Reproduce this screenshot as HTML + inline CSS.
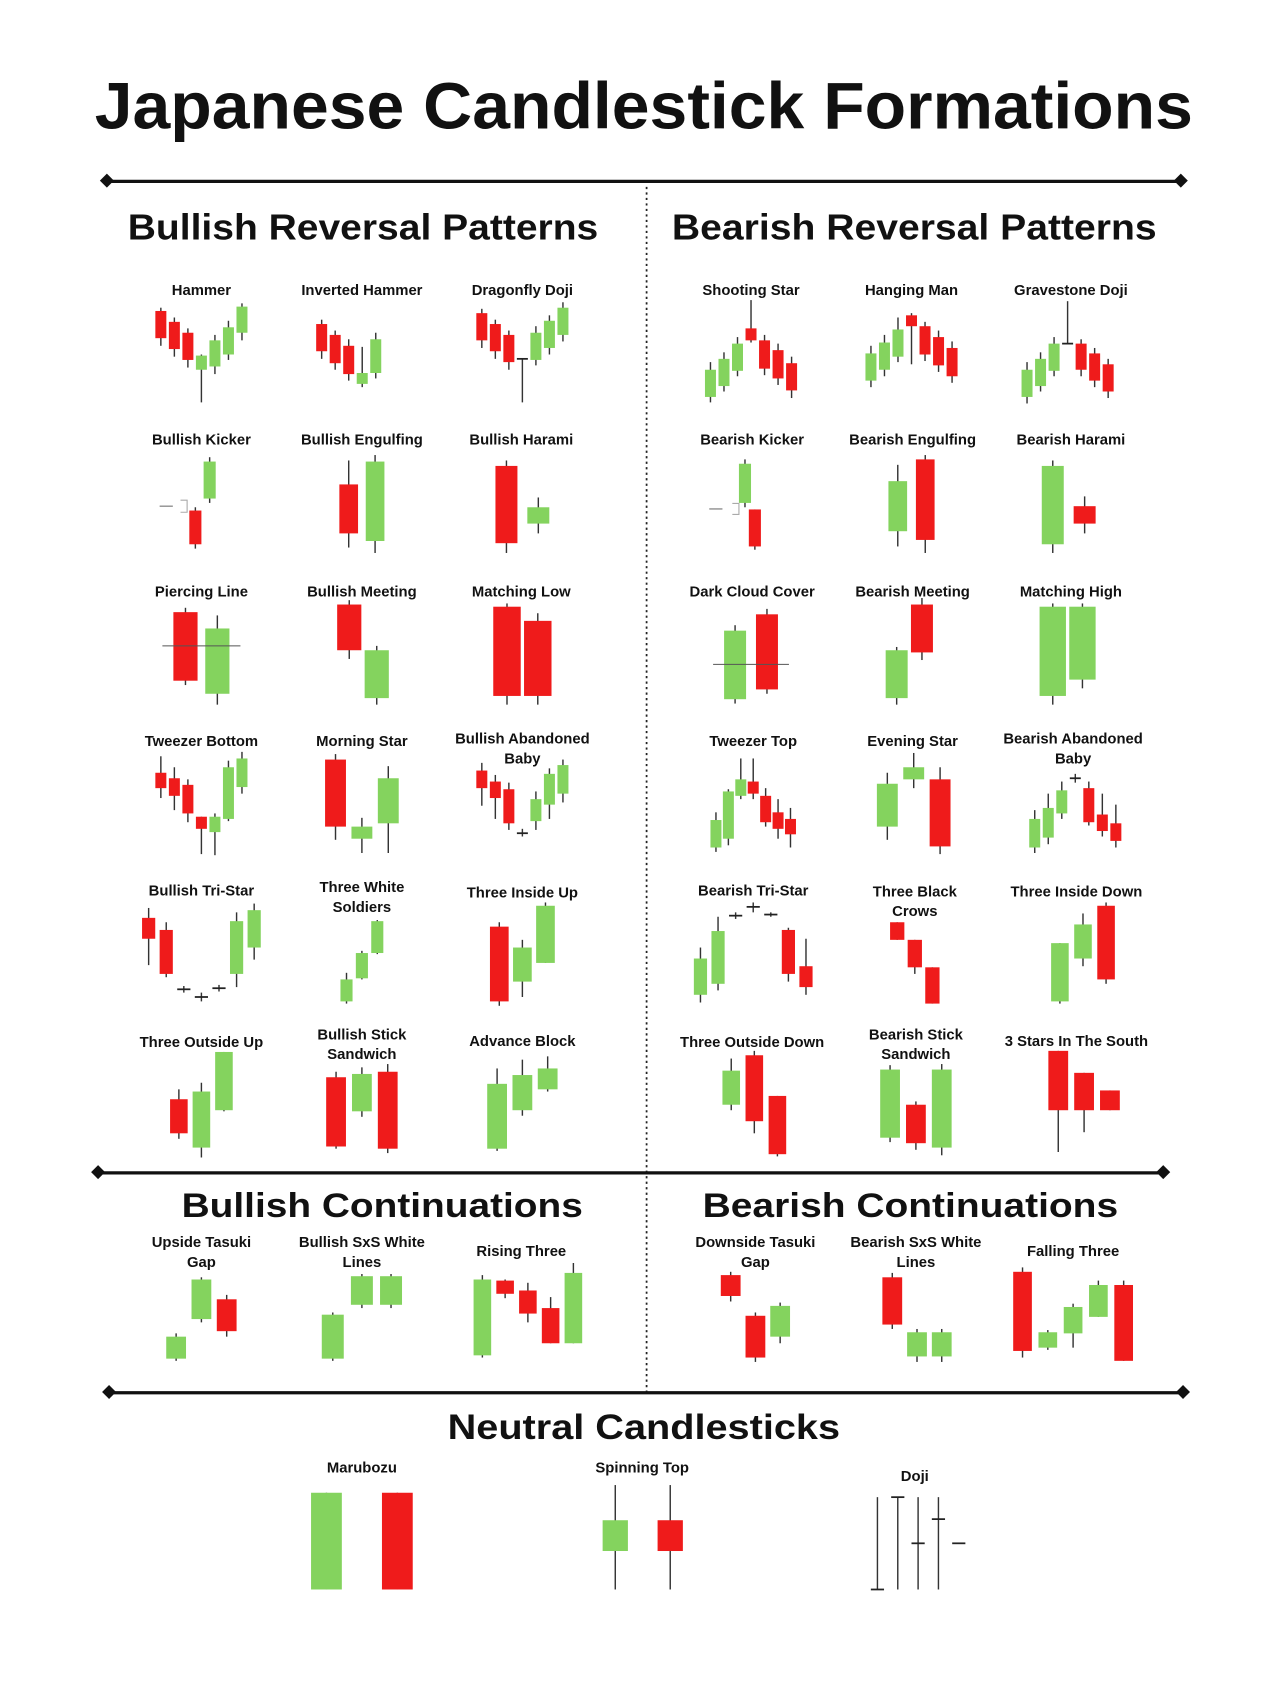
<!DOCTYPE html>
<html><head><meta charset="utf-8"><style>
html,body{margin:0;padding:0;background:#fff;}
svg{display:block;}
text{font-family:"Liberation Sans",sans-serif;font-weight:bold;fill:#111;}
</style></head><body>
<svg id="chart" width="1280" height="1706" viewBox="0 0 1164 1552" xmlns="http://www.w3.org/2000/svg">
<rect x="0" y="0" width="1164" height="1552" fill="#fff"/>
<text x="86" y="117" font-size="60" textLength="999" lengthAdjust="spacingAndGlyphs">Japanese Candlestick Formations</text>
<g>
<line x1="97" y1="165" x2="1074" y2="165" stroke="#111" stroke-width="3"/>
<rect x="92" y="160" width="9" height="9" transform="rotate(45 97 165)" fill="#111"/>
<rect x="1069" y="160" width="9" height="9" transform="rotate(45 1074 165)" fill="#111"/>
</g>
<line x1="588" y1="170" x2="588" y2="1267" stroke="#222" stroke-width="1.6" stroke-dasharray="2 3"/>
<text x="116" y="218" font-size="33" textLength="428" lengthAdjust="spacingAndGlyphs">Bullish Reversal Patterns</text>
<text x="611" y="218" font-size="33" textLength="441" lengthAdjust="spacingAndGlyphs">Bearish Reversal Patterns</text>
<g>
<line x1="89" y1="1067" x2="1058" y2="1067" stroke="#111" stroke-width="3"/>
<rect x="84" y="1062" width="9" height="9" transform="rotate(45 89 1067)" fill="#111"/>
<rect x="1053" y="1062" width="9" height="9" transform="rotate(45 1058 1067)" fill="#111"/>
</g>
<text x="165" y="1107" font-size="31" textLength="365" lengthAdjust="spacingAndGlyphs">Bullish Continuations</text>
<text x="639" y="1107" font-size="31" textLength="378" lengthAdjust="spacingAndGlyphs">Bearish Continuations</text>
<g>
<line x1="99" y1="1267" x2="1076" y2="1267" stroke="#111" stroke-width="3"/>
<rect x="94" y="1262" width="9" height="9" transform="rotate(45 99 1267)" fill="#111"/>
<rect x="1071" y="1262" width="9" height="9" transform="rotate(45 1076 1267)" fill="#111"/>
</g>
<text x="407" y="1309" font-size="32" textLength="357" lengthAdjust="spacingAndGlyphs">Neutral Candlesticks</text>
<g id="marks"></g>
</svg>
<script>
// candle data: [open, close, high, low]
const hammer=[[90,65,93,58],[80,55,84,48],[70,45,74,38],[36,49,50,6],[39,63,68,32],[50,75,81,45],[70,94,97,63]];
const invertedHammer=[[78,53,82,46],[68,42,72,36],[58,32,64,26],[23,33,57,20],[33,64,70,28]];
const dragonflyDoji=[[88,63,92,56],[78,53,82,46],[68,43,72,36],[46,46,46,6],[45,70,76,40],[56,81,86,50],[68,93,98,62]];
const shootingStar=[[11,36,43,6],[21,46,52,16],[35,60,66,30],[74,63,100,61],[63,37,68,31],[54,28,60,22],[42,17,48,10]];
const hangingMan=[[26,51,58,20],[36,61,68,30],[48,73,84,43],[86,76,88,41],[76,50,80,44],[66,40,72,34],[56,30,62,24]];
const gravestoneDoji=[[11,36,43,5],[21,46,52,16],[35,60,66,30],[60,60,99,60],[60,36,64,30],[51,26,56,20],[41,16,46,10]];
const bullishKicker=[[45,14,48,10],[56,90,94,52]];
const bullishEngulfing=[[69,24,91,11],[17,90,96,6]];
const bullishHarami=[[86,15,91,6],[33,48,57,24]];
const bearishKicker=[[52,88,92,48],[46,12,46,9]];
const bearishEngulfing=[[26,72,87,12],[92,18,96,6]];
const bearishHarami=[[14,86,91,6],[49,33,58,24]];
const piercingLine=[[89,26,93,22],[14,74,86,4]];
const bullishMeeting=[[96,54,100,46],[10,54,58,4]];
const matchingLow=[[94,12,97,4],[81,12,88,4]];
const darkCloudCover=[[9,72,77,5],[87,18,92,14]];
const bearishMeeting=[[10,54,57,4],[96,52,102,45]];
const matchingHigh=[[12,94,97,4],[27,94,97,19]];
const tweezerBottom=[[88,74,103,65],[83,67,93,54],[77,51,82,43],[48,37,48,14],[34,48,51,13],[46,93,99,44],[75,101,107,69]];
const morningStar=[[100,39,105,27],[28,39,47,15],[42,83,94,15]];
const bullishAbandonedBaby=[[90,74,97,58],[80,65,86,46],[73,42,79,36],[33,33,37,30],[44,64,71,36],[59,87,92,46],[69,95,100,61]];
const tweezerTop=[[20,45,52,16],[28,71,73,22],[67,82,101,64],[80,69,101,64],[67,43,74,39],[52,37,64,28],[46,32,56,20]];
const eveningStar=[[39,78,88,27],[82,93,106,74],[82,21,93,14]];
const bearishAbandonedBaby=[[20,46,54,15],[29,56,69,23],[51,72,80,46],[83,83,87,79],[74,43,80,40],[50,35,69,30],[42,26,59,20]];
const bullishTriStar=[[93,74,102,50],[82,42,89,39],[28,28,31,25],[21,21,25,17],[29,29,32,26],[42,90,98,30],[66,100,106,55]];
const threeWhiteSoldiers=[[17,37,43,15],[38,61,63,37],[61,90,91,60]];
const threeInsideUp=[[85,17,89,13],[35,66,73,21],[52,104,107,52]];
const bearishTriStar=[[23,56,66,16],[33,81,94,27],[95,95,98,92],[103,103,107,98],[96,96,98,94],[82,42,84,35],[49,30,74,23]];
const threeBlackCrows=[[89,73,89,73],[73,48,73,42],[48,15,48,15]];
const threeInsideDown=[[17,70,70,15],[56,87,97,49],[104,37,107,33]];
const threeOutsideUp=[[66,35,75,30],[22,73,81,13],[56,109,109,55]];
const bullishStickSandwich=[[86,23,91,21],[55,89,95,50],[91,21,98,17]];
const advanceBlock=[[21,80,94,19],[56,88,102,51],[75,94,105,73]];
const threeOutsideDown=[[61,92,103,56],[106,46,110,35],[69,16,69,14]];
const bearishStickSandwich=[[31,93,97,27],[61,26,64,20],[22,93,98,15]];
const threeStarsSouth=[[110,56,110,18],[90,56,90,36],[74,56,74,56]];
const upsideTasukiGap=[[19,39,42,17],[55,91,93,52],[73,44,77,39]];
const bullishSxsWhiteLines=[[19,59,61,17],[68,94,96,65],[68,94,96,65]];
const risingThree=[[22,91,95,20],[90,78,91,74],[81,60,88,52],[65,33,75,33],[33,97,106,33]];
const downsideTasukiGap=[[95,76,98,71],[58,20,61,16],[39,67,70,33]];
const bearishSxsWhiteLines=[[93,50,97,46],[21,43,46,16],[21,43,46,16]];
const fallingThree=[[98,26,102,20],[29,43,45,27],[42,66,69,29],[57,86,90,57],[86,17,90,17]];
const marubozu=[[4,92,92,4],[92,4,92,4]];
const spinningTop=[[39,67,99,4],[67,39,99,4]];
const doji=[[4,4,88,4],[88,88,88,4],[46,46,88,4],[68,68,88,4],[46,46,46,46]];

const GREEN="#84d35e", RED="#ef1b1b", WICK="#333";
const patterns=[
 {id:'hammer',label:['Hammer'],d:hammer,cx:183,base:372,k:.99,step:12.3,w:10,ly:264},
 {id:'inverted-hammer',label:['Inverted Hammer'],d:invertedHammer,cx:317,base:372,k:.99,step:12.3,w:10,ly:264,lx:329},
 {id:'dragonfly-doji',label:['Dragonfly Doji'],d:dragonflyDoji,cx:475,base:372,k:.99,step:12.3,w:10,ly:264},
 {id:'shooting-star',label:['Shooting Star'],d:shootingStar,cx:683,base:372,k:.99,step:12.3,w:10,ly:264},
 {id:'hanging-man',label:['Hanging Man'],d:hangingMan,cx:829,base:372,k:.99,step:12.3,w:10,ly:264},
 {id:'gravestone-doji',label:['Gravestone Doji'],d:gravestoneDoji,cx:971,base:372,k:.99,step:12.3,w:10,ly:264,lx:974},
 {id:'bullish-kicker',label:['Bullish Kicker'],d:bullishKicker,cx:184,base:509,k:.99,step:13,w:11,ly:400,lx:183},
 {id:'bullish-engulfing',label:['Bullish Engulfing'],d:bullishEngulfing,cx:329,base:509,k:.99,step:24,w:17,ly:400},
 {id:'bullish-harami',label:['Bullish Harami'],d:bullishHarami,cx:475,base:509,k:.99,step:29,w:20,ly:400,lx:474},
 {id:'bearish-kicker',label:['Bearish Kicker'],d:bearishKicker,cx:682,base:509,k:.99,step:9,w:11,ly:400,lx:684},
 {id:'bearish-engulfing',label:['Bearish Engulfing'],d:bearishEngulfing,cx:829,base:509,k:.99,step:25,w:17,ly:400,lx:830},
 {id:'bearish-harami',label:['Bearish Harami'],d:bearishHarami,cx:972,base:509,k:.99,step:29,w:20,ly:400,lx:974},
 {id:'piercing-line',label:['Piercing Line'],d:piercingLine,cx:183,base:645,k:.99,step:29,w:22,ly:538,hline:58},
 {id:'bullish-meeting',label:['Bullish Meeting'],d:bullishMeeting,cx:330,base:645,k:.99,step:25,w:22,ly:538,lx:329},
 {id:'matching-low',label:['Matching Low'],d:matchingLow,cx:475,base:645,k:.99,step:28,w:25,ly:538,lx:474},
 {id:'dark-cloud-cover',label:['Dark Cloud Cover'],d:darkCloudCover,cx:683,base:645,k:.99,step:29,w:20,ly:538,lx:684,hline:41},
 {id:'bearish-meeting',label:['Bearish Meeting'],d:bearishMeeting,cx:827,base:645,k:.99,step:23,w:20,ly:538,lx:830},
 {id:'matching-high',label:['Matching High'],d:matchingHigh,cx:971,base:645,k:.99,step:27,w:24,ly:538,lx:974},
 {id:'tweezer-bottom',label:['Tweezer Bottom'],d:tweezerBottom,cx:183,base:791,k:1,step:12.3,w:10,ly:674},
 {id:'morning-star',label:['Morning Star'],d:morningStar,cx:329,base:791,k:1,step:24,w:19,ly:674},
 {id:'bullish-abandoned-baby',label:['Bullish Abandoned','Baby'],d:bullishAbandonedBaby,cx:475,base:791,k:1,step:12.3,w:10,ly:672},
 {id:'tweezer-top',label:['Tweezer Top'],d:tweezerTop,cx:685,base:791,k:1,step:11.3,w:10,ly:674},
 {id:'evening-star',label:['Evening Star'],d:eveningStar,cx:831,base:791,k:1,step:24,w:19,ly:674,lx:830},
 {id:'bearish-abandoned-baby',label:['Bearish Abandoned','Baby'],d:bearishAbandonedBaby,cx:978,base:791,k:1,step:12.3,w:10,ly:672,lx:976},
 {id:'bullish-tri-star',label:['Bullish Tri-Star'],d:bullishTriStar,cx:183,base:928,k:1,step:16,w:12,ly:810},
 {id:'three-white-soldiers',label:['Three White','Soldiers'],d:threeWhiteSoldiers,cx:329,base:928,k:1,step:14,w:11,ly:807},
 {id:'three-inside-up',label:['Three Inside Up'],d:threeInsideUp,cx:475,base:928,k:1,step:21,w:17,ly:812},
 {id:'bearish-tri-star',label:['Bearish Tri-Star'],d:bearishTriStar,cx:685,base:928,k:1,step:16,w:12,ly:810},
 {id:'three-black-crows',label:['Three Black','Crows'],d:threeBlackCrows,cx:832,base:928,k:1,step:16,w:13,ly:811},
 {id:'three-inside-down',label:['Three Inside Down'],d:threeInsideDown,cx:985,base:928,k:1,step:21,w:16,ly:811,lx:979},
 {id:'three-outside-up',label:['Three Outside Up'],d:threeOutsideUp,cx:183,base:1066,k:1,step:20.5,w:16,ly:948},
 {id:'bullish-stick-sandwich',label:['Bullish Stick','Sandwich'],d:bullishStickSandwich,cx:329,base:1066,k:1,step:23.5,w:18,ly:941},
 {id:'advance-block',label:['Advance Block'],d:advanceBlock,cx:475,base:1066,k:1,step:23,w:18,ly:947},
 {id:'three-outside-down',label:['Three Outside Down'],d:threeOutsideDown,cx:686,base:1066,k:1,step:21,w:16,ly:948,lx:684},
 {id:'bearish-stick-sandwich',label:['Bearish Stick','Sandwich'],d:bearishStickSandwich,cx:833,base:1066,k:1,step:23.5,w:18,ly:941},
 {id:'three-stars-south',label:['3 Stars In The South'],d:threeStarsSouth,cx:986,base:1066,k:1,step:23.5,w:18,ly:947,lx:979},
 {id:'upside-tasuki-gap',label:['Upside Tasuki','Gap'],d:upsideTasukiGap,cx:183,base:1255,k:1,step:23,w:18,ly:1130},
 {id:'bullish-sxs-white-lines',label:['Bullish SxS White','Lines'],d:bullishSxsWhiteLines,cx:329,base:1255,k:1,step:26.5,w:20,ly:1130},
 {id:'rising-three',label:['Rising Three'],d:risingThree,cx:480,base:1255,k:1,step:20.7,w:16,ly:1138,lx:474},
 {id:'downside-tasuki-gap',label:['Downside Tasuki','Gap'],d:downsideTasukiGap,cx:687,base:1255,k:1,step:22.5,w:18,ly:1130},
 {id:'bearish-sxs-white-lines',label:['Bearish SxS White','Lines'],d:bearishSxsWhiteLines,cx:834,base:1255,k:1,step:22.5,w:18,ly:1130,lx:833},
 {id:'falling-three',label:['Falling Three'],d:fallingThree,cx:976,base:1255,k:1,step:23,w:17,ly:1138},
 {id:'marubozu',label:['Marubozu'],d:marubozu,cx:329,base:1450,k:1,step:64.5,w:28,ly:1335,lx:329},
 {id:'spinning-top',label:['Spinning Top'],d:spinningTop,cx:584.5,base:1450,k:1,step:50,w:23,ly:1335,lx:584},
 {id:'doji',label:['Doji'],d:doji,cx:835,base:1450,k:1,step:18.5,w:12,ly:1343,lx:832}
];
const NS="http://www.w3.org/2000/svg";
const marks=document.getElementById('marks');
function mk(tag,attrs,parent){const e=document.createElementNS(NS,tag);for(const a in attrs)e.setAttribute(a,attrs[a]);parent.appendChild(e);return e;}
patterns.forEach(p=>{
  const g=mk('g',{},marks);
  
  
  const lx=p.lx||p.cx;
  p.label.forEach((t,j)=>{
    const tx=mk('text',{x:lx,y:p.ly+4.5+j*18,'font-size':13.5,'text-anchor':'middle'},g);
    
    
    tx.textContent=t;
  });
  const n=p.d.length;
  const xs=i=>p.cx+(i-(n-1)/2)*p.step;
  const ys=v=>p.base-v*p.k;
  p.d.forEach((c,i)=>{
    const [o,cl,h,l]=c;
    const x=xs(i);
    const cg=mk('g',{},g);
    
    
    if(h>l) mk('line',{x1:x,x2:x,y1:ys(h),y2:ys(l),stroke:WICK,'stroke-width':1.3},cg);
    if(o===cl){
      mk('line',{x1:x-p.w/2,x2:x+p.w/2,y1:ys(o),y2:ys(o),stroke:'#222','stroke-width':1.6},cg);
    } else {
      const top=ys(Math.max(o,cl)), bot=ys(Math.min(o,cl));
      mk('rect',{x:x-p.w/2,y:top,width:p.w,height:bot-top,fill:cl>o?GREEN:RED},cg);
    }
  });
  if(p.hline!==undefined){
    const hl=mk('line',{x1:xs(0)-p.w/2-10,x2:xs(n-1)+p.w/2+10,y1:ys(p.hline),y2:ys(p.hline),stroke:'#555','stroke-width':1},g);
    
    
  }
});
// small gap annotations
[[145,455,170,466],[645,458,672,468]].forEach(a=>{
  const g=mk('g',{},marks);
  
  
  mk('line',{x1:a[0],x2:a[0]+12,y1:(a[1]+a[3])/2,y2:(a[1]+a[3])/2,stroke:'#888','stroke-width':1.2},g);
  mk('polyline',{points:`${a[2]-6},${a[1]} ${a[2]},${a[1]} ${a[2]},${a[3]} ${a[2]-6},${a[3]}`,fill:'none',stroke:'#aaa','stroke-width':1},g);
});
</script>
</body></html>
